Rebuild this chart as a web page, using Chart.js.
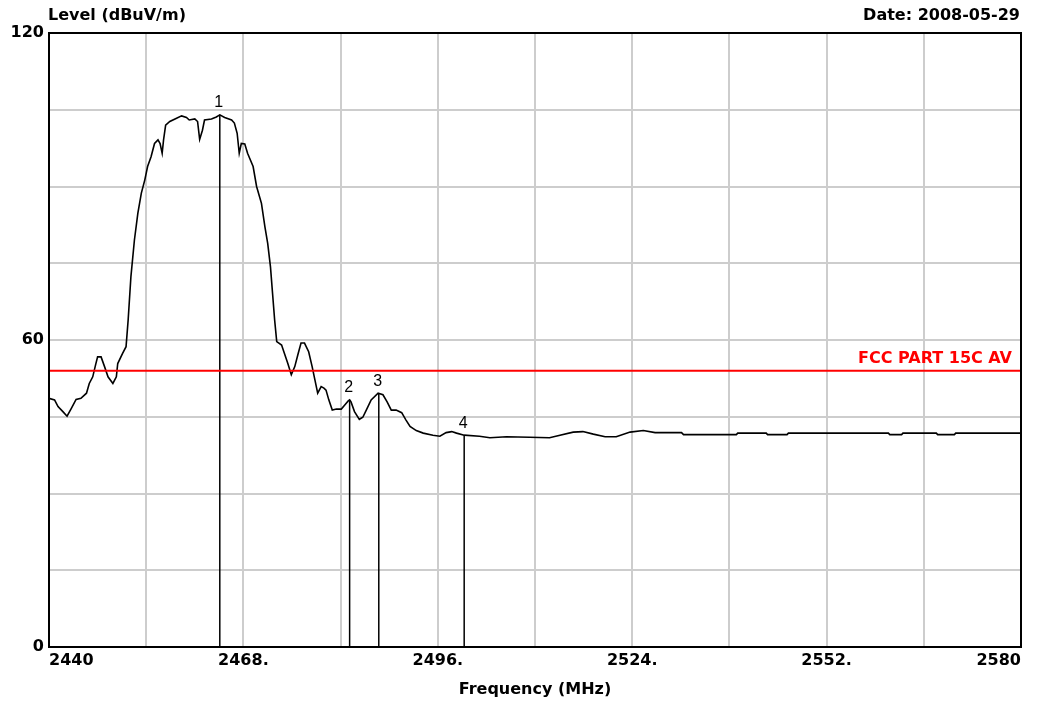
<!DOCTYPE html>
<html>
<head>
<meta charset="utf-8">
<script src="https://cdn.jsdelivr.net/npm/chart.js@4"></script>
<style>
  body { margin: 0; background: #fff; }
  #wrap { width: 1039px; height: 701px; }
</style>
</head>
<body>
<div id="wrap"><canvas id="specChart" width="1039" height="701"></canvas></div>
<script>
// ===== Data =====
const freqMHz = [
    2440.0, 2440.8, 2441.3, 2442.0, 2442.6, 2443.2, 2443.9, 2444.6, 2445.4, 2445.8,
    2446.3, 2446.7, 2447.0, 2447.5, 2448.0, 2448.5, 2449.2, 2449.7, 2449.9, 2450.6,
    2451.1, 2451.4, 2451.8, 2452.3, 2452.8, 2453.3, 2453.8, 2454.2, 2454.7, 2455.2,
    2455.7, 2456.0, 2456.3, 2456.5, 2456.8, 2457.4, 2458.3, 2459.1, 2459.8, 2460.2,
    2461.0, 2461.4, 2461.7, 2462.1, 2462.4, 2463.4, 2464.1, 2464.6, 2465.3, 2466.3,
    2466.7, 2467.1, 2467.4, 2467.7, 2468.2, 2468.6, 2469.4, 2469.9, 2470.6, 2471.1,
    2471.5, 2471.9, 2472.2, 2472.5, 2472.8, 2473.5, 2473.9, 2474.4, 2474.9, 2475.4,
    2475.9, 2476.3, 2476.8, 2477.4, 2477.9, 2478.3, 2478.7, 2479.2, 2479.6, 2479.9,
    2480.3, 2480.8, 2481.4, 2482.1, 2482.6, 2483.1, 2483.3, 2483.5, 2484.0, 2484.7,
    2485.2, 2485.7, 2486.4, 2487.4, 2487.5, 2488.1, 2488.7, 2489.3, 2490.0, 2490.8,
    2491.4, 2492.0, 2492.9, 2493.9, 2495.3, 2496.3, 2497.2, 2498.0, 2498.7, 2499.8,
    2502.0, 2503.5, 2505.9, 2509.2, 2512.1, 2513.6, 2515.5, 2516.9, 2518.4, 2520.1,
    2521.7, 2523.7, 2525.6, 2527.3, 2531.1, 2531.4, 2539.0, 2539.2, 2543.3, 2543.5,
    2546.3, 2546.5, 2560.9, 2561.1, 2562.8, 2563.0, 2567.8, 2568.0, 2570.4, 2570.6,
    2580.0
];
const levelDb = [
    48.6, 48.3, 47.0, 46.0, 45.1, 46.6, 48.4, 48.6, 49.6, 51.5,
    52.8, 55.1, 56.7, 56.7, 54.8, 52.8, 51.5, 52.8, 55.4, 57.4,
    58.7, 63.9, 72.4, 79.5, 84.8, 88.7, 91.3, 93.9, 95.8, 98.4,
    99.1, 98.4, 96.5, 99.1, 102.0, 102.7, 103.3, 103.8, 103.5, 103.0,
    103.2, 102.7, 99.2, 101.0, 103.0, 103.2, 103.6, 104.0, 103.5, 103.0,
    102.4, 100.4, 96.5, 98.4, 98.3, 96.5, 93.9, 90.0, 86.7, 82.1,
    78.9, 74.3, 69.1, 63.9, 59.7, 59.0, 57.4, 55.4, 53.2, 54.8,
    57.4, 59.4, 59.4, 57.7, 54.8, 52.2, 49.6, 50.9, 50.6, 50.2,
    48.3, 46.3, 46.5, 46.5, 47.3, 48.1, 48.3, 47.9, 46.0, 44.5,
    44.9, 46.3, 48.3, 49.6, 49.6, 49.3, 47.9, 46.3, 46.3, 45.8,
    44.4, 43.1, 42.3, 41.8, 41.4, 41.2, 41.9, 42.1, 41.8, 41.4,
    41.2, 40.9, 41.1, 41.0, 40.9, 41.4, 42.0, 42.1, 41.6, 41.1,
    41.1, 42.0, 42.3, 41.9, 41.9, 41.5, 41.5, 41.8, 41.8, 41.5,
    41.5, 41.8, 41.8, 41.5, 41.5, 41.8, 41.8, 41.5, 41.5, 41.8,
    41.8
];

const markerNames = ["1", "2", "3", "4"];
const markerFreq = [2464.6, 2483.3, 2487.5, 2499.8];
const markerLevel = [104.0, 48.3, 49.6, 41.4];

const limitName = "FCC PART 15C AV";
const limitLevel = 54;

const xTickValues = [2440, 2468, 2496, 2524, 2552, 2580];
const xTickLabels = ["2440", "2468.", "2496.", "2524.", "2552.", "2580"];
const yTickValues = [0, 60, 120];
const yTickLabels = ["0", "60", "120"];

const yTitle = "Level (dBuV/m)";
const xTitle = "Frequency (MHz)";
const dateText = "Date: 2008-05-29";

// ===== Build datasets =====
const trace = freqMHz.map((f, i) => ({ x: f, y: levelDb[i] }));

const markerSets = markerFreq.map((f, i) => ({
    data: [{ x: f, y: 0 }, { x: f, y: markerLevel[i] }],
    borderColor: "#000",
    borderWidth: 1.5,
    pointRadius: 0
}));

const boldFont = "'DejaVu Sans', sans-serif";

// frame, headings, marker numbers, limit caption
const overlay = {
    id: "overlay",
    afterDraw(chart) {
        const ctx = chart.ctx;
        const a = chart.chartArea;
        const xs = chart.scales.x;
        const ys = chart.scales.y;
        ctx.save();
        ctx.strokeStyle = "#000";
        ctx.lineWidth = 2;
        ctx.strokeRect(a.left, a.top, a.right - a.left, a.bottom - a.top);

        ctx.fillStyle = "#000";
        ctx.font = "bold 16px " + boldFont;
        ctx.textBaseline = "middle";
        ctx.textAlign = "left";
        ctx.fillText(yTitle, a.left - 1, 16);
        ctx.textAlign = "right";
        ctx.fillText(dateText, a.right - 1, 16);

        ctx.font = "16px 'Liberation Sans', sans-serif";
        ctx.textAlign = "center";
        ctx.textBaseline = "bottom";
        markerNames.forEach((n, i) => {
            const px = xs.getPixelForValue(markerFreq[i]) - 1;
            const py = ys.getPixelForValue(markerLevel[i]) - 4;
            ctx.fillText(n, px, py);
        });

        ctx.fillStyle = "#ff0000";
        ctx.font = "bold 16px " + boldFont;
        ctx.textAlign = "right";
        ctx.fillText(limitName, a.right - 9, ys.getPixelForValue(limitLevel) - 4);
        ctx.restore();
    }
};

const ctx = document.getElementById("specChart").getContext("2d");
new Chart(ctx, {
    type: "line",
    data: {
        datasets: [
            {
                data: [{ x: 2440, y: limitLevel }, { x: 2580, y: limitLevel }],
                borderColor: "#ff0000",
                borderWidth: 2,
                pointRadius: 0
            },
            {
                data: trace,
                borderColor: "#000",
                borderWidth: 1.6,
                pointRadius: 0,
                tension: 0
            }
        ].concat(markerSets)
    },
    options: {
        responsive: false,
        animation: false,
        events: [],
        layout: { padding: { top: 33, right: 18, left: 0, bottom: 0 } },
        plugins: {
            legend: { display: false },
            tooltip: { enabled: false }
        },
        scales: {
            x: {
                type: "linear",
                min: 2440,
                max: 2580,
                afterFit: (s) => { s.height = 54; },
                border: { display: false },
                grid: { color: "#cdcdcd", lineWidth: 2, drawTicks: false },
                ticks: {
                    stepSize: 14,
                    autoSkip: false,
                    maxRotation: 0,
                    align: "inner",
                    padding: 4,
                    color: "#000",
                    font: { family: boldFont, size: 16, weight: "bold" },
                    callback: (v) => {
                        const i = xTickValues.indexOf(v);
                        return i >= 0 ? xTickLabels[i] : "";
                    }
                },
                title: {
                    display: true,
                    text: xTitle,
                    color: "#000",
                    padding: { top: 0, bottom: 2 },
                    font: { family: boldFont, size: 16, weight: "bold" }
                }
            },
            y: {
                min: 0,
                max: 120,
                afterFit: (s) => { s.width = 49; },
                border: { display: false },
                grid: { color: "#cdcdcd", lineWidth: 2, drawTicks: false },
                ticks: {
                    stepSize: 15,
                    padding: 5,
                    color: "#000",
                    font: { family: boldFont, size: 16, weight: "bold" },
                    callback: (v) => {
                        const i = yTickValues.indexOf(v);
                        return i >= 0 ? yTickLabels[i] : "";
                    }
                }
            }
        }
    },
    plugins: [overlay]
});
</script>
</body>
</html>
